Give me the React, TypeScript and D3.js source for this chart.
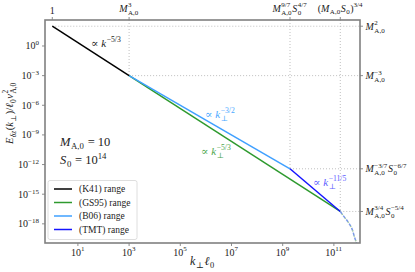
import React from "react";
import * as d3 from "d3";

const W = 415, H = 272;
const FONT = "Liberation Serif, DejaVu Serif, serif";

// ---- data ----
const k41K = [1, 1e3];
const k41E = [1e2, 1e-3];
const gs95K = [1e3, 1.778e11];
const gs95E = [1e-3, 1.778e-17];
const b06K = [1e3, 1.931e9];
const b06E = [1e-3, 3.73e-13];
const tmtK = [1.931e9, 1.778e11];
const tmtE = [3.73e-13, 1.778e-17];
const cutK = [1.778e11, 2.4e11, 3.16e11, 4.0e11, 5.0e11, 6.6e11, 7.8e11];
const cutE = [1.778e-17, 6.0e-18, 2.45e-18, 1.0e-18, 3.5e-19, 3.5e-20, 1.0e-20];
const bottomTicks = [1e1, 1e3, 1e5, 1e7, 1e9, 1e11];
const bottomExp = ["1", "3", "5", "7", "9", "11"];
const leftTicks = [1e0, 1e-3, 1e-6, 1e-9, 1e-12, 1e-15, 1e-18];
const leftExp = ["0", "−3", "−6", "−9", "−12", "−15", "−18"];
const topTicks = [1, 1e3, 1.931e9, 1.778e11];
const rightTicks = [1e2, 1e-3, 3.73e-13, 1.778e-17];

const legendNames = ["(K41) range", "(GS95) range", "(B06) range", "(TMT) range"];
const colors = ["#000000", "#2e9a2e", "#3fa0ff", "#1414ff"];

type Part = { b?: string; i?: boolean; sup?: string; sub?: string; subI?: boolean };

let ctx: CanvasRenderingContext2D | null = null;
function tw(s: string, size: number, italic?: boolean) {
  if (!ctx) ctx = document.createElement("canvas").getContext("2d");
  if (!ctx) return s.length * size * 0.5;
  ctx.font = `${italic ? "italic " : ""}${size}px ${FONT}`;
  return ctx.measureText(s).width;
}

function MathText({ parts, x, y, size, anchor = "start", color = "#222", rotate = 0 }:
  { parts: Part[]; x: number; y: number; size: number; anchor?: string; color?: string; rotate?: number }) {
  const ss = size * 0.7;
  const items: { t: string; x: number; y: number; s: number; it?: boolean }[] = [];
  let cx = 0;
  for (const p of parts) {
    if (p.b) {
      items.push({ t: p.b, x: cx, y: 0, s: size, it: p.i });
      cx += tw(p.b, size, p.i) + (p.i ? size * 0.05 : 0);
    }
    if (p.sup && p.sub) {
      items.push({ t: p.sup, x: cx, y: -0.45 * size, s: ss });
      items.push({ t: p.sub, x: cx, y: 0.3 * size, s: ss, it: p.subI });
      cx += Math.max(tw(p.sup, ss), tw(p.sub, ss, p.subI)) + size * 0.08;
    } else if (p.sup) {
      items.push({ t: p.sup, x: cx, y: -0.42 * size, s: ss });
      cx += tw(p.sup, ss) + size * 0.05;
    } else if (p.sub) {
      items.push({ t: p.sub, x: cx, y: 0.25 * size, s: ss, it: p.subI });
      cx += tw(p.sub, ss, p.subI) + size * 0.05;
    }
  }
  const off = anchor === "middle" ? -cx / 2 : anchor === "end" ? -cx : 0;
  return (
    <g transform={`translate(${x},${y}) rotate(${rotate})`}>
      <text style={{ fontFamily: FONT }} fill={color}>
        {items.map((it, idx) => (
          <tspan key={idx} x={it.x + off} y={it.y} fontSize={it.s} fontStyle={it.it ? "italic" : "normal"}>
            {it.t}
          </tspan>
        ))}
      </text>
    </g>
  );
}

const L = 45, R = 360, T = 20, B = 243;

export default function App() {
  const x = d3.scaleLog().domain([Math.pow(10, -0.285), Math.pow(10, 12.02)]).range([L, R]);
  const y = d3.scaleLog().domain([Math.pow(10, -19.94), Math.pow(10, 2.63)]).range([B, T]);
  const line = d3.line<[number, number]>().x((d) => x(d[0])).y((d) => y(d[1]));
  const curve = d3.line<[number, number]>().x((d) => x(d[0])).y((d) => y(d[1])).curve(d3.curveCatmullRom);
  const pts = (ks: number[], es: number[]) => ks.map((k, i) => [k, es[i]] as [number, number]);

  const spine = "#808080";
  const grid = { stroke: "#b8b8b8", strokeWidth: 0.9, strokeDasharray: "1,2" };
  const xmax = x.domain()[1], ymax = y.domain()[1];

  const topLabels: Part[][] = [
    [{ b: "1" }],
    [{ b: "M", i: true, sup: "3", sub: "A,0" }],
    [{ b: "M", i: true, sup: "9/7", sub: "A,0" }, { b: "S", i: true, sup: "4/7", sub: "0" }],
    [{ b: "(" }, { b: "M", i: true, sub: "A,0" }, { b: "S", i: true, sub: "0" }, { b: ")", sup: "3/4" }],
  ];
  const rightLabels: Part[][] = [
    [{ b: "M", i: true, sup: "2", sub: "A,0" }],
    [{ b: "M", i: true, sup: "−3", sub: "A,0" }],
    [{ b: "M", i: true, sup: "−3/7", sub: "A,0" }, { b: "S", i: true, sup: "−6/7", sub: "0" }],
    [{ b: "M", i: true, sup: "3/4", sub: "A,0" }, { b: "S", i: true, sup: "−5/4", sub: "0" }],
  ];

  return (
    <svg width={W} height={H} style={{ position: "absolute", left: 0, top: 0 }}>
      <rect width={W} height={H} fill="#fff" />
      <defs>
        <clipPath id="plot">
          <rect x={L} y={T} width={R - L} height={B - T} />
        </clipPath>
      </defs>
      {/* guide lines */}
      <g fill="none">
        <line x1={x(1)} x2={x(xmax)} y1={y(1e2)} y2={y(1e2)} {...grid} />
        <line x1={x(1e3)} x2={x(1e3)} y1={y(ymax)} y2={y(1e-3)} {...grid} />
        <line x1={x(1e3)} x2={x(xmax)} y1={y(1e-3)} y2={y(1e-3)} {...grid} />
        <line x1={x(tmtK[0])} x2={x(tmtK[0])} y1={y(ymax)} y2={y(tmtE[0])} {...grid} />
        <line x1={x(tmtK[0])} x2={x(xmax)} y1={y(tmtE[0])} y2={y(tmtE[0])} {...grid} />
        <line x1={x(tmtK[1])} x2={x(tmtK[1])} y1={y(ymax)} y2={y(tmtE[1])} {...grid} />
        <line x1={x(tmtK[1])} x2={x(xmax)} y1={y(tmtE[1])} y2={y(tmtE[1])} {...grid} />
      </g>
      {/* spectra */}
      <g fill="none" clipPath="url(#plot)" strokeWidth={1.5}>
        <path d={line(pts(gs95K, gs95E)) || ""} stroke={colors[1]} />
        <path d={line(pts(b06K, b06E)) || ""} stroke={colors[2]} />
        <path d={line(pts(tmtK, tmtE)) || ""} stroke={colors[3]} />
        <path d={line(pts(k41K, k41E)) || ""} stroke={colors[0]} />
        <path d={curve(pts(cutK, cutE)) || ""} stroke="#7b9ae6" strokeDasharray="3,2" />
        <path d={curve(pts(cutK, cutE)) || ""} stroke="#6aa86a" strokeDasharray="1,4" strokeDashoffset={-3} opacity={0.7} />
      </g>
      {/* spines */}
      <rect x={L} y={T} width={R - L} height={B - T} fill="none" stroke={spine} strokeWidth={1.6} />
      {/* ticks */}
      <g stroke={spine} strokeWidth={0.9}>
        {bottomTicks.map((t, i) => <line key={"b" + i} x1={x(t)} x2={x(t)} y1={B} y2={B + 3} />)}
        {leftTicks.map((t, i) => <line key={"l" + i} x1={L - 3} x2={L} y1={y(t)} y2={y(t)} />)}
        {topTicks.map((t, i) => <line key={"t" + i} x1={x(t)} x2={x(t)} y1={T - 3} y2={T} />)}
        {rightTicks.map((t, i) => <line key={"r" + i} x1={R} x2={R + 3} y1={y(t)} y2={y(t)} />)}
      </g>
      {/* tick labels */}
      {bottomTicks.map((t, i) => (
        <MathText key={"bl" + i} parts={[{ b: "10", sup: bottomExp[i] }]} x={x(t)} y={255.5} size={10} anchor="middle" />
      ))}
      {leftTicks.map((t, i) => (
        <MathText key={"ll" + i} parts={[{ b: "10", sup: leftExp[i] }]} x={39.5} y={y(t) + 3.5} size={10} anchor="end" />
      ))}
      {topLabels.map((p, i) => (
        <MathText key={"tl" + i} parts={p} x={x(topTicks[i])} y={i === 0 ? 13.5 : 11.5} size={10} anchor="middle" />
      ))}
      {rightLabels.map((p, i) => (
        <MathText key={"rl" + i} parts={p} x={365.5} y={y(rightTicks[i]) + 3.5} size={10} anchor="start" />
      ))}
      {/* axis labels */}
      <MathText parts={[{ b: "k", i: true, sub: "⊥" }, { b: "ℓ", i: true, sub: "0" }]} x={(L + R) / 2} y={265} size={12} anchor="middle" />
      <MathText
        parts={[
          { b: "E", i: true, sub: "δz", subI: true },
          { b: "(" },
          { b: "k", i: true, sub: "⊥" },
          { b: ")/" },
          { b: "ℓ", i: true, sub: "0" },
          { b: "v", i: true, sup: "2", sub: "A,0" },
        ]}
        x={13} y={113} size={10.5} anchor="middle" rotate={-90}
      />
      {/* annotations */}
      <MathText parts={[{ b: "∝ " }, { b: "k", i: true, sup: "−5/3" }]} x={91} y={47} size={11} color="#222" />
      <MathText parts={[{ b: "∝ " }, { b: "k", i: true, sup: "−3/2", sub: "⊥" }]} x={205} y={118} size={11} color="#4aa8ff" />
      <MathText parts={[{ b: "∝ " }, { b: "k", i: true, sup: "−5/3", sub: "⊥" }]} x={201} y={155} size={11} color="#4da64d" />
      <MathText parts={[{ b: "∝ " }, { b: "k", i: true, sup: "−11/5", sub: "⊥" }]} x={313} y={186} size={11} color="#6060ff" />
      <MathText parts={[{ b: "M", i: true, sub: "A,0" }, { b: " = 10" }]} x={60} y={146} size={12.5} color="#222" />
      <MathText parts={[{ b: "S", i: true, sub: "0" }, { b: " = 10", sup: "14" }]} x={60} y={164} size={12.5} color="#222" />
      {/* legend */}
      <rect x={48} y={180.5} width={89} height={59} rx={2} fill="#fff" fillOpacity={0.8} stroke="#d6d6d6" strokeWidth={0.8} />
      {legendNames.map((n, i) => (
        <g key={"lg" + i}>
          <line x1={54} x2={72} y1={189 + i * 13.5} y2={189 + i * 13.5} stroke={colors[i]} strokeWidth={1.5} />
          <text x={79} y={189 + i * 13.5 + 3} style={{ fontFamily: FONT }} fontSize={9.5} fill="#222">{n}</text>
        </g>
      ))}
    </svg>
  );
}
